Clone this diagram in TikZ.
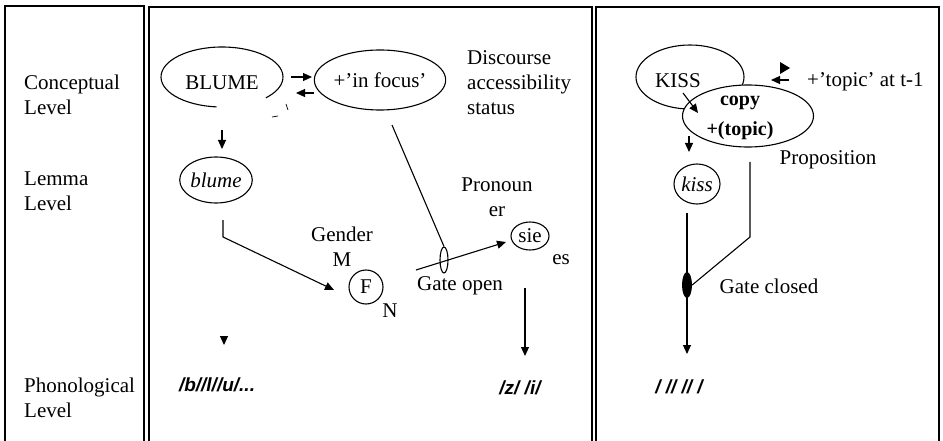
\documentclass[tikz,border=0pt]{standalone}
\usepackage{fontspec}
\setmainfont{Liberation Serif}
\newfontfamily\phonfont{Liberation Sans}
\usetikzlibrary{shapes.geometric,arrows.meta}
\begin{document}
\begin{tikzpicture}[x=1pt,y=-1pt,
  frame/.style={line width=1.5pt},
  conn/.style={line width=1.1pt},
  arr/.style={conn,-{Triangle[length=9pt,width=8pt]}},
  txt/.style={font=\fontsize{21}{25}\selectfont,inner sep=0pt},
  itxt/.style={font=\fontsize{21}{25}\selectfont\itshape,inner sep=0pt},
  btxt/.style={font=\fontsize{20}{30}\selectfont\bfseries,inner sep=0pt},
  phon/.style={font=\phonfont\bfseries\itshape\fontsize{19}{22}\selectfont,inner sep=0pt},
  lvl/.style={txt,align=left,anchor=west},
  oval/.style={ellipse,draw,line width=1.1pt,inner sep=0pt}]
\useasboundingbox (0,0) rectangle (943,441);

% three panels, open at the bottom
\draw[frame] (5,441) -- (5,6) -- (144,6) -- (144,441);
\draw[frame] (149,441) -- (149,7) -- (592,7) -- (592,441);
\draw[frame] (596,441) -- (596,7) -- (939,7) -- (939,441);

% level labels
\node[lvl] (conc) at (24,95) {Conceptual\\Level};
\node[lvl] (lemma) at (24,191) {Lemma\\Level};
\node[lvl] (phono) at (24,398) {Phonological\\Level};

% ---- middle panel ----
\node[ellipse,minimum width=122pt,minimum height=60pt,inner sep=0pt] (blumeC) at (222,77) {};
\draw[conn] (blumeC.center) ++(95:61 and 30) arc[start angle=95,end angle=404,x radius=61,y radius=30];
\draw[line width=0.7pt] (286,104) -- (288,110);
\draw[line width=0.7pt] (272,117) -- (278,116);
\node[txt] (blumeT) at (222,83) {BLUME};

\node[oval,txt,minimum width=114pt,minimum height=60pt] (focus) at (380,80) {+'in focus'};
\coordinate (r1) at (291,77); \coordinate (r2) at (312,77);
\coordinate (l1) at (314,93); \coordinate (l2) at (296,93);
\draw[arr] (r1) -- (r2);
\draw[arr] (l1) -- (l2);
\node[txt,align=left,anchor=west] (disc) at (467,83) {Discourse\\accessibility\\status};

\node[oval,itxt,minimum width=62pt,minimum height=46pt] (blumeL) at (216,180) {blume};
\coordinate (bd1) at (222,130); \coordinate (bd2) at (222,149);
\draw[arr] (bd1) -- (bd2);

\node[txt,align=center] (gender) at (342,247) {Gender\\M};
\node[circle,draw,conn,txt,minimum size=34pt] (F) at (366,287) {F};
\node[txt] (N) at (390,311) {N};
\coordinate (g1) at (223,220); \coordinate (g2) at (223,237); \coordinate (g3) at (334,290);
\draw[arr] (g1) -- (g2) -- (g3);

\node[ellipse,draw,conn,minimum width=8pt,minimum height=26pt,inner sep=0pt] (gateO) at (444,260) {};
\coordinate (f1) at (392,125);
\draw[conn] (f1) -- (gateO.north);
\node[txt] (gateOT) at (460,286) {Gate open};

\node[txt,align=center] (pron) at (497,197) {Pronoun\\er};
\node[oval,txt,minimum width=38pt,minimum height=28pt] (sie) at (530,236) {sie};
\node[txt] (es) at (561,260) {es};
\coordinate (s1) at (416,270); \coordinate (s2) at (506,242);
\draw[arr] (s1) -- (s2);
\coordinate (z1) at (525,288); \coordinate (z2) at (525,356);
\draw[arr] (z1) -- (z2);
\node[phon] (zi) at (520,388) {/z/ /i/};

\coordinate (p1) at (224,336); \coordinate (p2) at (224,345);
\draw[arr] (p1) -- (p2);
\node[phon] (blu) at (217,385) {/b//l//u/...};

% ---- right panel ----
\node[oval,minimum width=108pt,minimum height=64pt] (kissC) at (690,77) {};
\node[txt] (kissT) at (678,81) {KISS};
\node[oval,fill=white,minimum width=131pt,minimum height=62pt] (copy) at (748,116) {};
\node[btxt,align=center] (copyT) at (740,118) {copy\\+(topic)};
\coordinate (k1) at (683,93); \coordinate (k2) at (698,113);
\draw[arr] (k1) -- (k2);

\coordinate (t1) at (789,80); \coordinate (t2) at (771,80);
\draw[arr] (t1) -- (t2);
\fill (780,62) -- (790,68) -- (780,74) -- cycle;
\node[txt,anchor=west] (topic) at (807,82) {+'topic' at t-1};
\node[txt] (prop) at (828,160) {Proposition};

\node[oval,itxt,minimum width=46pt,minimum height=40pt] (kissL) at (697,184) {kiss};
\coordinate (c1) at (689,136); \coordinate (c2) at (689,152);
\draw[arr] (c1) -- (c2);

\node[ellipse,fill,minimum width=10pt,minimum height=26pt,inner sep=0pt] (gateC) at (687,285) {};
\coordinate (d1) at (687,213); \coordinate (d2) at (687,354);
\draw[arr] (d1) -- (d2);
\coordinate (e1) at (750,162); \coordinate (e2) at (750,237);
\draw[conn] (e1) -- (e2) -- (gateC.east);
\node[txt] (gateCT) at (769,286) {Gate closed};
\node[phon] (sl) at (679,387) {/ // // /};
\end{tikzpicture}
\end{document}
